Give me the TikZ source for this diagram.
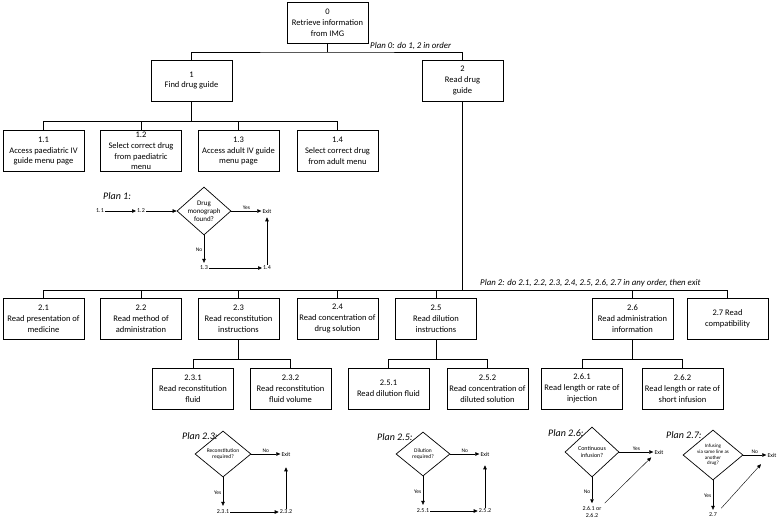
\documentclass[tikz,border=0pt]{standalone}
\usepackage{fontspec}
\setmainfont{Carlito}
\usetikzlibrary{arrows.meta,shapes.geometric,calc}

\begin{document}
\begin{tikzpicture}[x=1pt,y=-1pt,
  box/.style={draw,line width=0.7pt,minimum width=81pt,minimum height=41pt,
    align=center,inner sep=1pt,font=\fontsize{8.5}{10.8}\selectfont},
  tree/.style={line width=0.7pt},
  plan/.style={anchor=west,inner sep=0pt,font=\itshape\fontsize{8.8}{10}\selectfont},
  subplan/.style={plan,font=\itshape\fontsize{10}{11}\selectfont},
  flow/.style={inner sep=1pt,align=center,font=\fontsize{6}{7}\selectfont},
  lbl/.style={inner sep=1.5pt,font=\fontsize{5.5}{6.5}\selectfont},
  choice/.style={diamond,draw,line width=0.7pt,inner sep=0pt,align=center,
    minimum width=56pt,minimum height=46pt,font=\fontsize{5.5}{6.5}\selectfont},
  arr/.style={-{Triangle[length=4pt,width=3.5pt]},line width=0.6pt}]
\useasboundingbox (0,0) rectangle (780,520);

% nivel 0 y 1
\node[box] (t0) at (327.5,23) {0\\Retrieve information\\from IMG};
\node[box] (t1) at (191.5,80.5) {1\\Find drug guide};
\node[box] (t2) at (462.5,80.5) {2\\Read drug\\guide};
\coordinate (b0) at (327.5,52);
\draw[tree] (t0.south) -- (b0);
\draw[tree] (t1.north) |- (b0) -| (t2.north);
\node[plan] (plan0) at (370,46) {Plan 0: do 1, 2 in order};

% tareas 1.x
\node[box] (t11) at (43.5,151) {1.1\\Access paediatric IV\\guide menu page};
\node[box] (t12) at (141,151) {1.2\\Select correct drug\\from paediatric\\menu};
\node[box] (t13) at (238.5,151) {1.3\\Access adult IV guide\\menu page};
\node[box] (t14) at (337.5,151) {1.4\\Select correct drug\\from adult menu};
\coordinate (b1) at (191.5,121);
\draw[tree] (t1.south) -- (b1);
\foreach \n in {11,12,13,14} \draw[tree] (b1) -| (t\n.north);

% plan 1
\node[subplan] (plan1) at (103,196) {Plan 1:};
\node[flow] (p11) at (100,211) {1.1};
\node[flow] (p12) at (141,211) {1.2};
\node[choice,minimum width=54pt,minimum height=48pt,inner sep=-2pt,font=\fontsize{7}{7.8}\selectfont] (d1) at (204,211) {Drug\\monograph\\found?};
\node[flow] (e1) at (267,211) {Exit};
\node[flow] (p13) at (204,268) {1.3};
\node[flow] (p14) at (267,268) {1.4};
\draw[arr] (p11) -- (p12);
\draw[arr] (p12) -- (d1);
\draw[arr] (d1) -- node[lbl,above] (y1) {Yes} (e1);
\draw[arr,shorten >=2pt] (d1) -- node[lbl,left] (n1) {No} (p13);
\draw[arr] (p13) -- (p14);
\draw[arr,shorten >=3pt] (p14) -- (e1);

% tareas 2.x
\node[box] (t21) at (43.5,318.5) {2.1\\Read presentation of\\medicine};
\node[box] (t22) at (141,318.5) {2.2\\Read method of\\administration};
\node[box] (t23) at (238.5,318.5) {2.3\\Read reconstitution\\instructions};
\node[box] (t24) at (337.5,318.5) {2.4\\Read concentration of\\drug solution};
\node[box] (t25) at (436,318.5) {2.5\\Read dilution\\instructions};
\node[box] (t26) at (632.5,318.5) {2.6\\Read administration\\information};
\node[box] (t27) at (727.5,318.5) {2.7 Read\\compatibility};
\coordinate (b2) at (462.5,290);
\draw[tree] (t2.south) -- (b2);
\foreach \n in {21,22,23,24,25,26,27} \draw[tree] (b2) -| (t\n.north);
\node[plan] (plan2) at (480,283) {Plan 2: do 2.1, 2.2, 2.3, 2.4, 2.5, 2.6, 2.7 in any order, then exit};

% subtareas
\node[box] (t231) at (193,388.5) {2.3.1\\Read reconstitution\\fluid};
\node[box] (t232) at (290.5,388.5) {2.3.2\\Read reconstitution\\fluid volume};
\node[box] (t251) at (388.5,388.5) {2.5.1\\Read dilution fluid};
\node[box] (t252) at (487.5,388.5) {2.5.2\\Read concentration of\\diluted solution};
\node[box] (t261) at (582,388.5) {2.6.1\\Read length or rate of\\injection};
\node[box] (t262) at (682.5,388.5) {2.6.2\\Read length or rate of\\short infusion};
\foreach \p in {23,25,26} {
  \coordinate (b\p) at ($(t\p.south)+(0,20)$);
  \draw[tree] (t\p.south) -- (b\p);
  \draw[tree] (b\p) -| (t\p1.north);
  \draw[tree] (b\p) -| (t\p2.north);
}

% plan 2.3
\node[subplan] (plan23) at (182,436) {Plan 2.3:};
\node[choice] (d23) at (223,454) {Reconstitution\\required?};
\node[flow] (e23) at (286,454) {Exit};
\node[flow] (q231) at (223,512) {2.3.1};
\node[flow] (q232) at (286,512) {2.3.2};
\draw[arr] (d23) -- node[lbl,above] (n23) {No} (e23);
\draw[arr,shorten >=3pt] (d23) -- node[lbl,left] (y23) {Yes} (q231);
\draw[arr] (q231) -- (q232);
\draw[arr,shorten >=10pt] (q232) -- (e23);

% plan 2.5
\node[subplan] (plan25) at (377,437) {Plan 2.5:};
\node[choice,minimum width=54pt,minimum height=44pt] (d25) at (423,454) {Dilution\\required?};
\node[flow] (e25) at (485,454) {Exit};
\node[flow] (q251) at (423,511) {2.5.1};
\node[flow] (q252) at (485,511) {2.5.2};
\draw[arr] (d25) -- node[lbl,above] (n25) {No} (e25);
\draw[arr,shorten >=3pt] (d25) -- node[lbl,left] (y25) {Yes} (q251);
\draw[arr] (q251) -- (q252);
\draw[arr,shorten >=8pt] (q252) -- (e25);

% plan 2.6
\node[subplan] (plan26) at (548,433) {Plan 2.6:};
\node[choice,minimum width=54pt,minimum height=50pt,font=\fontsize{6}{7}\selectfont] (d26) at (592,452) {Continuous\\infusion?};
\node[flow] (e26) at (659,452) {Exit};
\node[flow] (q26) at (592,512) {2.6.1 or\\2.6.2};
\draw[arr] (d26) -- node[lbl,above] (y26) {Yes} (e26);
\draw[arr,shorten >=2pt] (d26) -- node[lbl,left] (n26) {No} (q26);
\draw[arr,line width=0.4pt,shorten <=3pt,shorten >=3pt] (q26.north east) -- (e26.south west);

% plan 2.7
\node[subplan] (plan27) at (666,435) {Plan 2.7:};
\node[choice,minimum width=60pt,minimum height=50pt,inner sep=-1pt,font=\fontsize{5}{5.6}\selectfont] (d27) at (713,455) {Infusing\\via same line as\\another\\drug?};
\node[flow] (e27) at (772,455) {Exit};
\node[flow] (q27) at (713,515) {2.7};
\draw[arr] (d27) -- node[lbl,above] (n27) {No} (e27);
\draw[arr,shorten >=2pt] (d27) -- node[lbl,left] (y27) {Yes} (q27);
\draw[arr,line width=0.4pt,shorten <=5pt,shorten >=8pt] (q27.north east) -- (e27.south west);
\end{tikzpicture}
\end{document}
